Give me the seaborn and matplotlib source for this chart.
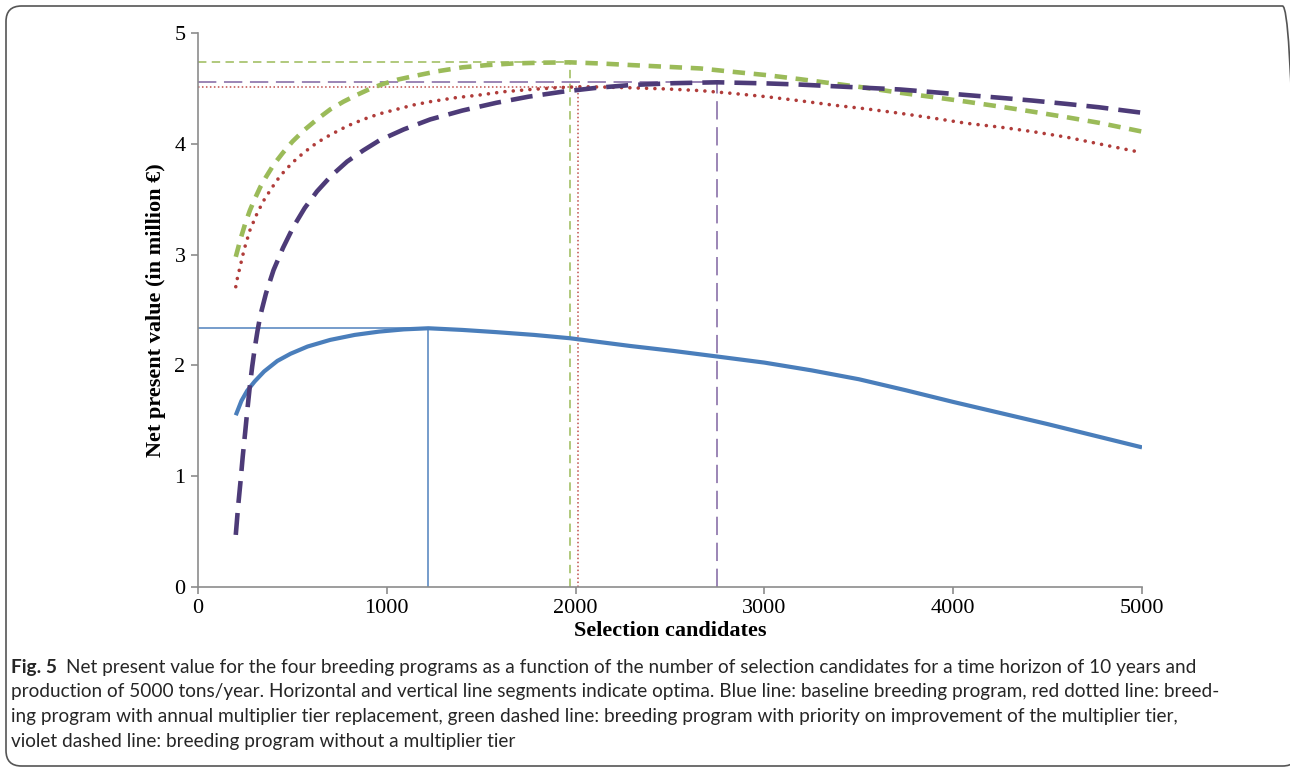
import numpy as np
import pandas as pd
import matplotlib
matplotlib.use('Agg')
import matplotlib.pyplot as plt
from matplotlib.patches import FancyBboxPatch
import seaborn as sns

# values (net present value in million EUR)
blue_x = [200, 230, 260, 300, 350, 420, 490, 580, 700, 830, 960, 1090, 1220, 1400, 1580, 1780, 1970,
          2290, 2520, 2750, 3000, 3250, 3500, 3750, 4000, 4250, 4500, 4750, 5000]
blue_y = [1.55, 1.68, 1.77, 1.855, 1.945, 2.04, 2.105, 2.17, 2.23, 2.275, 2.305, 2.325, 2.335, 2.32, 2.30, 2.275, 2.245,
          2.175, 2.13, 2.08, 2.025, 1.955, 1.875, 1.775, 1.67, 1.57, 1.47, 1.365, 1.26]

red_x = [200, 210, 220, 245, 275, 310, 345, 390, 435, 500, 560, 630, 700, 790, 875, 960, 1050, 1140, 1230,
         1360, 1490, 1620, 1760, 1890, 2015, 2150, 2300, 2480, 2660, 2830, 3010, 3180, 3360, 3540, 3720,
         3900, 4070, 4250, 4420, 4600, 4770, 5000]
red_y = [2.71, 2.80, 2.87, 3.05, 3.22, 3.36, 3.48, 3.60, 3.71, 3.83, 3.92, 4.01, 4.08, 4.16, 4.22, 4.27, 4.31, 4.35, 4.38,
         4.415, 4.44, 4.47, 4.49, 4.505, 4.515, 4.512, 4.505, 4.495, 4.48, 4.455, 4.425, 4.39, 4.35, 4.315, 4.275,
         4.23, 4.185, 4.15, 4.11, 4.06, 4.00, 3.92]

green_x = [200, 225, 250, 275, 300, 330, 360, 400, 450, 500, 560, 630, 700, 770, 840, 910, 980, 1060, 1140,
           1270, 1400, 1530, 1670, 1820, 1970, 2130, 2300, 2480, 2660, 2830, 3010, 3180, 3360, 3540, 3720,
           3900, 4070, 4250, 4420, 4600, 4770, 5000]
green_y = [2.98, 3.14, 3.28, 3.40, 3.50, 3.61, 3.70, 3.81, 3.92, 4.02, 4.12, 4.22, 4.31, 4.38, 4.44, 4.495, 4.54, 4.58, 4.61,
           4.655, 4.69, 4.71, 4.725, 4.732, 4.735, 4.725, 4.71, 4.695, 4.68, 4.65, 4.62, 4.585, 4.545, 4.505, 4.46,
           4.42, 4.38, 4.335, 4.29, 4.24, 4.19, 4.11]

violet_x = [200, 212, 225, 237, 250, 262, 275, 287, 300, 315, 330, 360, 400, 450, 505, 565, 630, 705, 790, 875,
            960, 1090, 1230, 1400, 1580, 1750, 1930, 2110, 2290, 2520, 2750, 3010, 3180, 3360, 3540, 3720,
            3900, 4070, 4250, 4420, 4600, 4770, 5000]
violet_y = [0.47, 0.72, 0.95, 1.18, 1.40, 1.61, 1.82, 1.99, 2.15, 2.31, 2.45, 2.65, 2.86, 3.06, 3.25, 3.42, 3.57, 3.71, 3.84, 3.94,
            4.03, 4.13, 4.22, 4.30, 4.37, 4.425, 4.47, 4.505, 4.53, 4.547, 4.555, 4.545, 4.535, 4.52, 4.505, 4.49,
            4.465, 4.44, 4.415, 4.39, 4.36, 4.33, 4.28]

# optima: blue, red, green, violet
opt_x = [1220, 2015, 1970, 2750]
opt_y = [2.335, 4.515, 4.735, 4.555]

caption_head = "Fig. 5"
caption_lines = [
    "Net present value for the four breeding programs as a function of the number of selection candidates for a time horizon of 10 years and",
    "production of 5000 tons/year. Horizontal and vertical line segments indicate optima. Blue line: baseline breeding program, red dotted line: breed-",
    "ing program with annual multiplier tier replacement, green dashed line: breeding program with priority on improvement of the multiplier tier,",
    "violet dashed line: breeding program without a multiplier tier",
]

sns.set_style('white')
plt.rcParams['font.family'] = ['Liberation Serif', 'DejaVu Serif']

fig = plt.figure(figsize=(12.9, 7.69), dpi=100)
ax = fig.add_axes([0.1535, 0.2367, 0.7318, 0.7204])

# thin optimum markers
thin = [('#4F81BD', '-'), ('#C0504D', (0, (1, 1.6))), ('#9BBB59', (0, (5.5, 3.5))), ('#8064A2', (0, (12, 5)))]
for (c, ls), xo, yo in zip(thin, opt_x, opt_y):
    ax.plot([0, xo], [yo, yo], color=c, lw=1.1, linestyle=ls)
    ax.plot([xo, xo], [0, yo], color=c, lw=1.1, linestyle=ls)

sns.lineplot(x=blue_x, y=blue_y, ax=ax, color='#4A7EBB', lw=3.0, solid_capstyle='butt')
sns.lineplot(x=red_x, y=red_y, ax=ax, color='#B03C3A', lw=2.6,
             linestyle=(0, (0.01, 2.3)), dash_capstyle='round')
sns.lineplot(x=green_x, y=green_y, ax=ax, color='#9BBB59', lw=3.3,
             linestyle=(0, (2.7, 1.9)))
sns.lineplot(x=violet_x, y=violet_y, ax=ax, color='#4D3B78', lw=3.3,
             linestyle=(0, (4.8, 2.2)))

ax.set_xlim(0, 5000)
ax.set_ylim(0, 5)
ax.set_xticks([0, 1000, 2000, 3000, 4000, 5000])
ax.set_yticks([0, 1, 2, 3, 4, 5])
for s in ['top', 'right']:
    ax.spines[s].set_visible(False)
for s in ['left', 'bottom']:
    ax.spines[s].set_color('#8C8C8C')
    ax.spines[s].set_linewidth(1.2)
ax.tick_params(axis='both', direction='out', length=5, width=1.2, color='#8C8C8C',
               labelsize=16, labelcolor='black', pad=4, left=True, bottom=True)
ax.set_xlabel('Selection candidates', fontsize=16, fontweight='bold', color='black', labelpad=2)
ax.set_ylabel('Net present value (in million \u20ac)', fontsize=16, fontweight='bold',
              color='black', labelpad=6)

# caption, sized so the lines fill the same width as in the figure
cap_font = ['Lato', 'DejaVu Sans']
renderer = fig.canvas.get_renderer()
probe = fig.text(0, 0, caption_lines[1], family=cap_font, fontsize=14)
w = probe.get_window_extent(renderer).width
probe.remove()
cap_size = 14 * 1214 / w

head = fig.text(11 / 1290, 1 - 667 / 769, caption_head, family=cap_font, fontweight='bold',
                fontsize=cap_size, va='center', ha='left')
hw = head.get_window_extent(renderer).width
fig.text((11 + hw + 9) / 1290, 1 - 667 / 769, caption_lines[0], family=cap_font,
         fontsize=cap_size, va='center', ha='left')
for i, line in enumerate(caption_lines[1:]):
    fig.text(11 / 1290, 1 - (692 + 24.5 * i) / 769, line, family=cap_font,
             fontsize=cap_size, va='center', ha='left')

# rounded frame around figure and caption
box = FancyBboxPatch((6 / 1290, 3 / 769), 1292 / 1290, 760 / 769,
                     boxstyle='round,pad=0,rounding_size=0.012',
                     transform=fig.transFigure, fill=False,
                     edgecolor='#555555', lw=1.2, mutation_aspect=1290 / 769)
fig.patches.append(box)

fig.savefig('out.png', dpi=100)
